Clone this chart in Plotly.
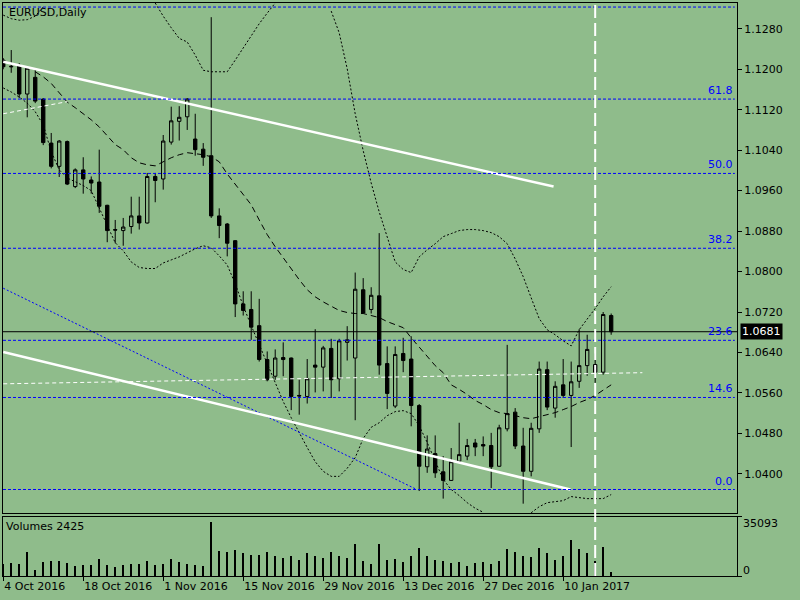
import plotly.graph_objects as go
from plotly.subplots import make_subplots

# EURUSD daily bars (bar index 0 = 4 Oct 2016)
opens = [1.1218, 1.1206, 1.1208, 1.1151, 1.1184, 1.1141, 1.1054, 1.1008, 1.1057, 1.0968,
         1.1001, 1.0981, 1.0977, 1.0931, 1.0883, 1.0881, 1.0889, 1.0910, 1.0896, 1.0988,
         1.0983, 1.1056, 1.1097, 1.1106, 1.1062, 1.1042, 1.1029, 1.0910, 1.0894, 1.0861,
         1.0736, 1.0725, 1.0693, 1.0626, 1.0593, 1.0630, 1.0629, 1.0555, 1.0553, 1.0615,
         1.0611, 1.0648, 1.0588, 1.0660, 1.0629, 1.0764, 1.0725, 1.0752, 1.0618, 1.0534,
         1.0638, 1.0627, 1.0535, 1.0414, 1.0440, 1.0404, 1.0387, 1.0425, 1.0435, 1.0461,
         1.0458, 1.0456, 1.0415, 1.0489, 1.0522, 1.0455, 1.0405, 1.0489, 1.0606, 1.0530,
         1.0576, 1.0555, 1.0583, 1.0614, 1.0616, 1.0601, 1.0713]
highs = [1.1222, 1.1238, 1.1212, 1.1205, 1.1200, 1.1143, 1.1074, 1.1060, 1.1059, 1.1004,
         1.1026, 1.0988, 1.1041, 1.0932, 1.0902, 1.0906, 1.0948, 1.0948, 1.0995, 1.0995,
         1.1070, 1.1126, 1.1127, 1.1143, 1.1112, 1.1054, 1.1303, 1.0925, 1.0896, 1.0862,
         1.0761, 1.0761, 1.0746, 1.0642, 1.0646, 1.0660, 1.0630, 1.0586, 1.0627, 1.0686,
         1.0653, 1.0667, 1.0667, 1.0692, 1.0798, 1.0787, 1.0769, 1.0876, 1.0652, 1.0652,
         1.0669, 1.0672, 1.0538, 1.0476, 1.0476, 1.0435, 1.0451, 1.0501, 1.0469, 1.0469,
         1.0474, 1.0481, 1.0497, 1.0655, 1.0530, 1.0491, 1.0501, 1.0622, 1.0622, 1.0583,
         1.0627, 1.0622, 1.0686, 1.0675, 1.0638, 1.0720, 1.0717]
lows = [1.1200, 1.1193, 1.1143, 1.1105, 1.1133, 1.1050, 1.1004, 1.0987, 1.0971, 1.0965,
        1.0954, 1.0954, 1.0916, 1.0858, 1.0856, 1.0851, 1.0875, 1.0883, 1.0895, 1.0937,
        1.0962, 1.1051, 1.1059, 1.1080, 1.1029, 1.1009, 1.0906, 1.0866, 1.0830, 1.0710,
        1.0713, 1.0665, 1.0622, 1.0583, 1.0586, 1.0593, 1.0526, 1.0517, 1.0539, 1.0561,
        1.0563, 1.0550, 1.0563, 1.0624, 1.0506, 1.0717, 1.0717, 1.0596, 1.0528, 1.0530,
        1.0601, 1.0494, 1.0366, 1.0402, 1.0392, 1.0351, 1.0386, 1.0422, 1.0427, 1.0435,
        1.0435, 1.0372, 1.0414, 1.0484, 1.0449, 1.0341, 1.0395, 1.0481, 1.0526, 1.0511,
        1.0550, 1.0453, 1.0570, 1.0594, 1.0580, 1.0596, 1.0675]
closes = [1.1205, 1.1205, 1.1151, 1.1202, 1.1137, 1.1055, 1.1008, 1.1058, 1.0973, 1.1001,
          1.0983, 1.0975, 1.0929, 1.0881, 1.0882, 1.0888, 1.0910, 1.0896, 1.0988, 1.0980,
          1.1058, 1.1098, 1.1105, 1.1141, 1.1041, 1.1026, 1.0910, 1.0891, 1.0856, 1.0736,
          1.0723, 1.0690, 1.0626, 1.0586, 1.0629, 1.0626, 1.0553, 1.0554, 1.0588, 1.0611,
          1.0649, 1.0586, 1.0663, 1.0665, 1.0765, 1.0718, 1.0753, 1.0615, 1.0559, 1.0636,
          1.0624, 1.0535, 1.0415, 1.0449, 1.0402, 1.0387, 1.0424, 1.0438, 1.0456, 1.0453,
          1.0455, 1.0414, 1.0491, 1.0519, 1.0455, 1.0405, 1.0490, 1.0607, 1.0532, 1.0573,
          1.0555, 1.0582, 1.0614, 1.0646, 1.0601, 1.0715, 1.0681]
volumes = [7500, 7890, 7100, 14200, 3950, 8480, 9070, 8880, 7890, 6110,
           6510, 6900, 10060, 6510, 5330, 6710, 7100, 7300, 8880, 6710,
           7300, 10060, 8290, 7500, 6900, 6110, 31960, 14800, 14200, 15390,
           13610, 12430, 12430, 14200, 11840, 10650, 11840, 9470, 13610, 11840,
           10650, 14200, 11840, 10650, 18940, 8880, 7100, 18940, 9470, 10060,
           8290, 11840, 16570, 11840, 9470, 8880, 7690, 8290, 5920, 7690,
           8290, 7100, 8880, 15980, 14200, 11840, 11250, 16570, 13610, 9470,
           11840, 21310, 15980, 13610, 8880, 17170, 2425]

# Bollinger bands as drawn (None where the band leaves the panel)
bb_upper = [1.1307, 1.1300, 1.1297, 1.1298, 1.1305, 1.1323, None, None, None, None,
            None, None, None, None, None, None, None, None, None, 1.1331,
            1.1305, 1.1282, 1.1261, 1.1254, 1.1228, 1.1198, 1.1195, 1.1195, 1.1195, 1.1218,
            1.1242, 1.1266, 1.1290, 1.1311, 1.1331, None, None, None, None, None,
            None, 1.1315, 1.1272, 1.1201, 1.1112, 1.1039, 1.0975, 1.0918, 1.0867, 1.0819,
            1.0804, 1.0798, 1.0829, 1.0843, 1.0855, 1.0869, 1.0875, 1.0881, 1.0883, 1.0883,
            1.0881, 1.0877, 1.0869, 1.0855, 1.0825, 1.0790, 1.0748, 1.0707, 1.0685, 1.0675,
            1.0663, 1.0653, 1.0685, 1.0705, 1.0727, 1.0750, 1.0770]
bb_middle = [None, None, None, None, 1.1195, 1.1185, 1.1172, 1.1153, 1.1135, 1.1124,
             1.1112, 1.1100, 1.1086, 1.1068, 1.1051, 1.1041, 1.1025, 1.1015, 1.1011, 1.1009,
             1.1017, 1.1025, 1.1031, 1.1035, 1.1033, 1.1031, 1.1027, 1.1017, 1.0993, 1.0973,
             1.0954, 1.0932, 1.0902, 1.0873, 1.0849, 1.0827, 1.0806, 1.0784, 1.0764, 1.0750,
             1.0740, 1.0732, 1.0723, 1.0719, 1.0717, 1.0717, 1.0713, 1.0709, 1.0701, 1.0695,
             1.0689, 1.0669, 1.0650, 1.0632, 1.0614, 1.0600, 1.0576, 1.0567, 1.0557, 1.0545,
             1.0537, 1.0527, 1.0521, 1.0519, 1.0515, 1.0511, 1.0509, 1.0513, 1.0517, 1.0521,
             1.0527, 1.0533, 1.0541, 1.0547, 1.0555, 1.0565, 1.0576]
bb_lower = [1.1163, 1.1155, 1.1145, 1.1133, 1.1116, 1.1090, 1.1037, 1.1001, 1.0985, 1.0977,
            1.0970, 1.0960, 1.0926, 1.0891, 1.0857, 1.0841, 1.0819, 1.0808, 1.0806, 1.0806,
            1.0817, 1.0823, 1.0829, 1.0837, 1.0845, 1.0851, 1.0847, 1.0831, 1.0813, 1.0776,
            1.0732, 1.0693, 1.0655, 1.0620, 1.0582, 1.0543, 1.0511, 1.0480, 1.0452, 1.0424,
            1.0405, 1.0395, 1.0395, 1.0411, 1.0432, 1.0470, 1.0492, 1.0501, 1.0515, 1.0523,
            1.0525, 1.0519, 1.0495, 1.0462, 1.0424, 1.0389, 1.0369, 1.0357, 1.0343, 1.0332,
            1.0324, None, None, None, None, None, 1.0323, 1.0335, 1.0343, 1.0345,
            1.0347, 1.0355, 1.0353, 1.0351, 1.0351, 1.0351, 1.0359]

# date axis
tick_bars = [0, 10, 20, 30, 40, 50, 60, 70]
tick_dates = ["4 Oct 2016", "18 Oct 2016", "1 Nov 2016", "15 Nov 2016",
              "29 Nov 2016", "13 Dec 2016", "27 Dec 2016", "10 Jan 2017"]
price_ticks = [1.0400, 1.0480, 1.0560, 1.0640, 1.0720, 1.0800, 1.0880,
               1.0960, 1.1040, 1.1120, 1.1200, 1.1280]

# Fibonacci retracement levels
fib_labels = ["0.0", "14.6", "23.6", "38.2", "50.0", "61.8", ""]
fib_prices = [1.0369, 1.0551, 1.0664, 1.0846, 1.0994, 1.1141, 1.1323]

# drawn objects: [bar, bar], [price, price]
chan_top_x, chan_top_y = [0, 68.8], [1.1215, 1.0968]
chan_bot_x, chan_bot_y = [0, 70.9], [1.0641, 1.0369]
blue_line_x, blue_line_y = [0, 51.7], [1.0767, 1.0369]
dash_a_x, dash_a_y = [0, 8], [1.1112, 1.1136]
dash_b_x, dash_b_y = [0, 79.9], [1.0578, 1.0600]
vline_bar = 74
bid = 1.0681
vol_max = 35093

bars = list(range(len(closes)))
BG = "#8fbc8b"
FONT = "DejaVu Sans"
X_RANGE = [-0.03, 91.73]

fig = make_subplots(rows=2, cols=1, shared_xaxes=True)

fig.add_trace(go.Candlestick(
    x=bars, open=opens, high=highs, low=lows, close=closes,
    increasing=dict(line=dict(color="black", width=1), fillcolor=BG),
    decreasing=dict(line=dict(color="black", width=1), fillcolor="black"),
    whiskerwidth=0, hoverinfo="skip", showlegend=False), row=1, col=1)

fig.add_trace(go.Scatter(x=bars, y=bb_upper, mode="lines", showlegend=False,
                         line=dict(color="black", width=1, dash="2px,2px")), row=1, col=1)
fig.add_trace(go.Scatter(x=bars, y=bb_lower, mode="lines", showlegend=False,
                         line=dict(color="black", width=1, dash="2px,2px")), row=1, col=1)
fig.add_trace(go.Scatter(x=bars, y=bb_middle, mode="lines", showlegend=False,
                         line=dict(color="black", width=1, dash="6px,4px")), row=1, col=1)

for xs, ys, col, w, dash in [
    (blue_line_x, blue_line_y, "#0000ff", 1, "2px,2px"),
    (dash_a_x, dash_a_y, "white", 1, "4px,3px"),
    (dash_b_x, dash_b_y, "white", 1, "4px,3px"),
    (chan_top_x, chan_top_y, "white", 2.5, "solid"),
    (chan_bot_x, chan_bot_y, "white", 2.5, "solid"),
]:
    fig.add_trace(go.Scatter(x=xs, y=ys, mode="lines", showlegend=False,
                             line=dict(color=col, width=w, dash=dash)), row=1, col=1)

fig.add_trace(go.Bar(x=bars, y=volumes, width=0.13, marker=dict(color="black", line=dict(width=0)),
                     showlegend=False), row=2, col=1)

# fib lines and labels
for lab, lvl in zip(fib_labels, fib_prices):
    fig.add_shape(type="line", xref="x domain", yref="y", x0=0, x1=0.997, y0=lvl, y1=lvl,
                  line=dict(color="#0000ff", width=1, dash="3px,2px"))
    if lab:
        fig.add_annotation(xref="x domain", yref="y", x=0.997, y=lvl, text=lab,
                           showarrow=False, xanchor="right", yanchor="bottom",
                           font=dict(family=FONT, size=11, color="#0000ff"))

# bid line
fig.add_shape(type="line", xref="x domain", yref="y", x0=0, x1=1, y0=bid, y1=bid,
              line=dict(color="black", width=1))
fig.add_annotation(xref="x domain", yref="y", x=1, y=bid, text=f"{bid:.4f}", showarrow=False,
                   xanchor="left", yanchor="middle", xshift=3, bgcolor="black", borderpad=1,
                   font=dict(family=FONT, size=11, color="white"))

# vertical period separator
fig.add_shape(type="line", xref="x", yref="paper", x0=vline_bar, x1=vline_bar, y0=0, y1=1,
              line=dict(color="white", width=2, dash="13px,5px"))

txt = dict(family=FONT, size=11, color="black")
fig.add_annotation(xref="x domain", yref="y domain", x=0.005, y=0.982, text="EURUSD,Daily",
                   showarrow=False, xanchor="left", yanchor="middle", font=txt)
fig.add_annotation(xref="x2 domain", yref="y2 domain", x=0.002, y=0.83, text="Volumes 2425",
                   showarrow=False, xanchor="left", yanchor="middle", font=txt)
fig.add_annotation(xref="x2 domain", yref="y2 domain", x=1, y=0.89, text=str(vol_max),
                   showarrow=False, xanchor="left", yanchor="middle", xshift=4, font=txt)
fig.add_annotation(xref="x2 domain", yref="y2 domain", x=1, y=0.1, text="0",
                   showarrow=False, xanchor="left", yanchor="middle", xshift=4, font=txt)

axis_common = dict(showline=True, mirror=True, linecolor="black", linewidth=1,
                   showgrid=False, zeroline=False)
fig.update_layout(
    width=800, height=600,
    margin=dict(l=3, r=63, t=3, b=24),
    paper_bgcolor=BG, plot_bgcolor=BG,
    font=dict(family=FONT, size=11, color="black"),
    boxgap=0.4, bargap=0,
    xaxis=dict(range=X_RANGE, showticklabels=False, rangeslider=dict(visible=False),
               **axis_common),
    xaxis2=dict(range=X_RANGE, tickvals=tick_bars, ticktext=tick_dates, ticks="outside",
                ticklen=4, tickcolor="black", ticklabelposition="outside right", **axis_common),
    yaxis=dict(domain=[0.1091, 1], range=[1.03216, 1.13310], side="right", tickvals=price_ticks,
               ticktext=[f"{t:.4f}" for t in price_ticks], ticks="outside", ticklen=4,
               tickcolor="black", **axis_common),
    yaxis2=dict(domain=[0, 0.1035], range=[0, vol_max], side="right", tickvals=[0, vol_max],
                showticklabels=False, ticks="outside", ticklen=4, tickcolor="black", **axis_common),
)

fig.write_html("out.html", config={"displayModeBar": False},
               post_script="document.body.style.margin='0';")
